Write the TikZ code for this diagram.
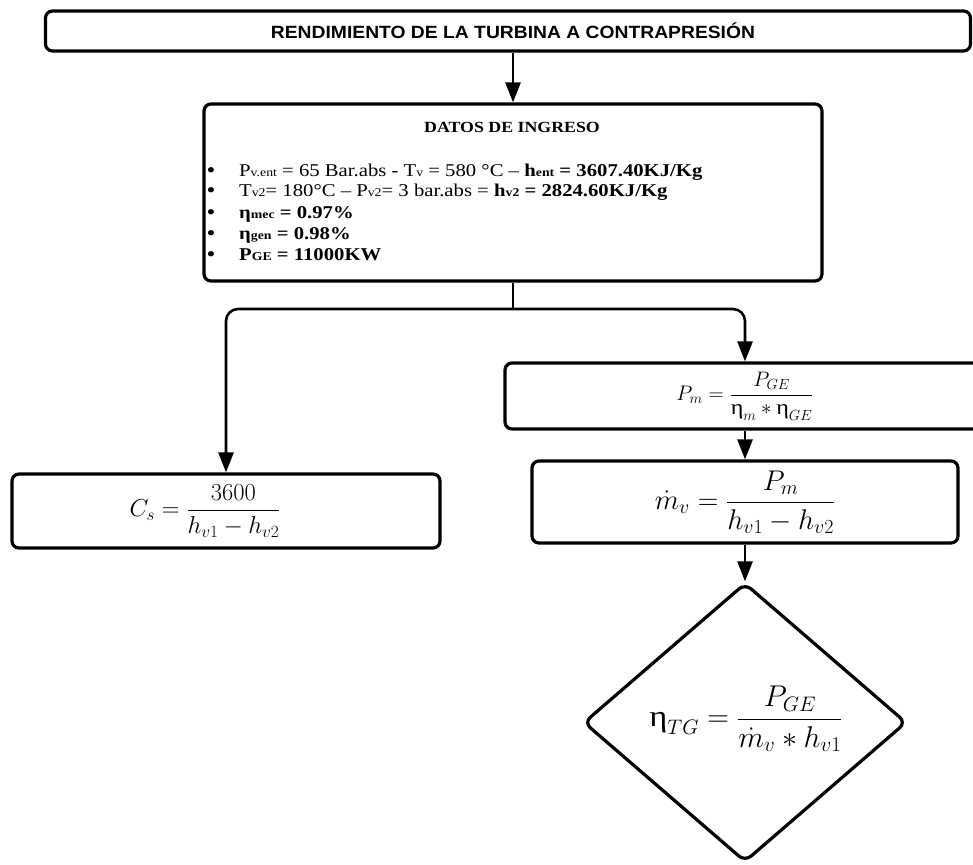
\RequirePackage{fix-cm}
\documentclass[tikz,border=0pt]{standalone}
\usepackage{amsmath}
\usepackage{fontspec}
\setmainfont{Liberation Serif}[FakeStretch=1.15]
\newfontfamily\titlefont{Liberation Sans}[FakeStretch=1.09]
\usetikzlibrary{arrows.meta,shapes.geometric}
\newcommand\ueta{\text{\normalfont η}}
\newcommand\smtxt[1]{{\fontsize{12pt}{14pt}\selectfont #1}}
\tikzset{
  box/.style={draw, line width=3.2pt, rounded corners=7pt, inner sep=0pt},
  conn/.style={line width=2.6pt},
  arr/.style={line width=2.6pt, -{Triangle[length=20pt,width=15pt]}},
  linetxt/.style={anchor=base west, inner sep=0pt, font=\fontsize{18pt}{20pt}\selectfont},
  bullet/.style={anchor=base, inner sep=0pt, font=\fontsize{22pt}{20pt}\selectfont}
}
\begin{document}
\begin{tikzpicture}[x=1pt, y=-1pt]
\useasboundingbox (0,0) rectangle (973,864);
% title
\node[box, minimum width=925pt, minimum height=40pt] (title) at (508,31) {};
\node[font=\titlefont\bfseries\fontsize{17.7pt}{20pt}\selectfont] (titletxt) at (513,31)
      {RENDIMIENTO DE LA TURBINA A CONTRAPRESIÓN};
% datos
\node[box, minimum width=618pt, minimum height=177pt] (datos) at (513,192.5) {};
\node[font=\bfseries\fontsize{15.5pt}{18pt}\selectfont] (dtitle) at (512,127) {DATOS DE INGRESO};
\node[bullet] (b1) at (211,177) {•};
\node[bullet] (b2) at (211,197) {•};
\node[bullet] (b3) at (211,219) {•};
\node[bullet] (b4) at (211,240) {•};
\node[bullet] (b5) at (211,261) {•};
\node[linetxt] (l1) at (239,176) {P\smtxt{v.ent} = 65 Bar.abs - T\smtxt{v} = 580 °C – \textbf{h\smtxt{ent} = 3607.40KJ/Kg}};
\node[linetxt] (l2) at (239,196) {T\smtxt{v2}= 180°C – P\smtxt{v2}= 3 bar.abs = \textbf{h\smtxt{v2} = 2824.60KJ/Kg}};
\node[linetxt] (l3) at (239,218) {\textbf{η\smtxt{mec} = 0.97\%}};
\node[linetxt] (l4) at (239,239) {\textbf{η\smtxt{gen} = 0.98\%}};
\node[linetxt] (l5) at (239,260) {\textbf{P\smtxt{GE} = 11000KW}};
% formula boxes
\node[box, minimum width=428pt, minimum height=74pt] (cs) at (226,511) {};
\node[font=\fontsize{24.5pt}{27pt}\selectfont] (csf) at (205,511) {$\displaystyle C_s=\frac{3600}{h_{v1}-h_{v2}}$};
\node[box, minimum width=480pt, minimum height=66pt, font=\fontsize{21pt}{24pt}\selectfont] (pm) at (745,396)
  {$\displaystyle P_m=\frac{P_{GE}}{\ueta_m * \ueta_{GE}}$};
\node[box, minimum width=426pt, minimum height=82pt, font=\fontsize{28.5pt}{31pt}\selectfont] (mv) at (745,502)
  {$\displaystyle \dot m_v=\frac{P_m}{h_{v1}-h_{v2}}$};
\node[draw, diamond, line width=3.2pt, rounded corners=8pt, minimum width=323pt, minimum height=279pt, inner sep=0pt] (dia) at (745,722.5) {};
\node[font=\fontsize{30pt}{33pt}\selectfont] (diaf) at (746,719) {$\displaystyle \ueta_{TG}=\frac{P_{GE}}{\dot m_v * h_{v1}}$};
% connectors
\coordinate (split) at (513,309);
\draw[arr] (datos.north |- title.south) -- (datos.north);
\draw[conn] (datos.south) -- (split);
\draw[arr, rounded corners=12pt] (split) -| (cs.north);
\draw[arr, rounded corners=12pt] (split) -| (pm.north);
\draw[arr] (pm.south) -- (mv.north);
\draw[arr] (mv.south) -- (dia.north);
\end{tikzpicture}
\end{document}
